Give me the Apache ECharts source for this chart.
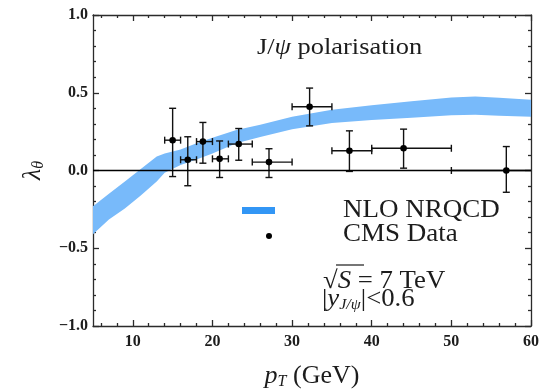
<!DOCTYPE html>
<html>
<head>
<meta charset="utf-8">
<script src="https://cdn.jsdelivr.net/npm/echarts@6/dist/echarts.min.js"></script>
<style>
    html, body { margin: 0; padding: 0; background: #fff; }
    #chart { width: 539px; height: 389px; }
</style>
</head>
<body>
<div id="chart"></div>
<script>
// CMS data points (pT bin centre, bin edges, lambda_theta with error)
const ptCentre = [15.0, 16.9, 18.8, 20.9, 23.3, 27.1, 32.2, 37.2, 44.0, 56.9];
const ptLow = [14, 16, 18, 20, 22, 25, 30, 35, 40, 50];
const ptHigh = [16, 18, 20, 22, 25, 30, 35, 40, 50, 70];
const lambda = [0.195, 0.069, 0.186, 0.075, 0.17, 0.054, 0.41, 0.127, 0.143, 0.0];
const lambdaLow = [-0.039, -0.098, 0.047, -0.045, 0.066, -0.045, 0.287, -0.006, 0.015, -0.14];
const lambdaHigh = [0.40, 0.217, 0.309, 0.19, 0.27, 0.14, 0.53, 0.255, 0.266, 0.154];

// NLO NRQCD band
const bandPt = [5, 7, 9, 11, 13, 14, 16, 18, 20, 23, 26, 30, 35, 40, 45, 50, 53, 56, 60];
const bandLow = [-0.41, -0.315, -0.245, -0.16, -0.07, -0.015, 0.035, 0.07, 0.11, 0.175, 0.215, 0.265, 0.305, 0.325, 0.34, 0.355, 0.358, 0.352, 0.345];
const bandHigh = [-0.23, -0.15, -0.07, 0.01, 0.09, 0.11, 0.135, 0.175, 0.21, 0.26, 0.295, 0.345, 0.39, 0.42, 0.445, 0.47, 0.476, 0.468, 0.455];

// tick positions
const xMajor = [10, 20, 30, 40, 50, 60];
const xMinor = [6, 8, 12, 14, 16, 18, 22, 24, 26, 28, 32, 34, 36, 38, 42, 44, 46, 48, 52, 54, 56, 58];

const serif = 'Liberation Serif';
const ink = '#1c1c1c';
const frame = { color: '#2b2b2b', width: 1.3 };

const renderBand = (params, api) => {
    if (params.dataIndex !== 0) return null;
    const pts = [];
    for (let i = 0; i < bandPt.length; i++) pts.push(api.coord([bandPt[i], bandHigh[i]]));
    for (let i = bandPt.length - 1; i >= 0; i--) pts.push(api.coord([bandPt[i], bandLow[i]]));
    return { type: 'polygon', shape: { points: pts }, style: { fill: '#78bafa' } };
};

const renderErrorBar = (params, api) => {
    const cs = params.coordSys;
    const xMax = cs.x + cs.width;
    const x = api.value(0), y = api.value(1);
    const c = api.coord([x, y]);
    const l = api.coord([api.value(2), y]);
    const r = api.coord([api.value(3), y]);
    const lo = api.coord([x, api.value(4)]);
    const hi = api.coord([x, api.value(5)]);
    const cap = 3.5;
    const st = { stroke: '#111', lineWidth: 1.4 };
    const seg = (x1, y1, x2, y2) => ({ type: 'line', shape: { x1, y1, x2, y2 }, style: st });
    const kids = [
        seg(l[0], c[1], Math.min(r[0], xMax), c[1]),
        seg(c[0], hi[1], c[0], lo[1]),
        seg(c[0] - cap, hi[1], c[0] + cap, hi[1]),
        seg(c[0] - cap, lo[1], c[0] + cap, lo[1]),
        seg(l[0], c[1] - cap, l[0], c[1] + cap)
    ];
    if (r[0] <= xMax + 0.5) kids.push(seg(r[0], c[1] - cap, r[0], c[1] + cap));
    kids.push({ type: 'circle', shape: { cx: c[0], cy: c[1], r: 3.3 }, style: { fill: '#000' } });
    return { type: 'group', children: kids };
};

const xBase = {
    type: 'value', min: 5, max: 60, gridIndex: 0,
    splitLine: { show: false },
    axisLabel: { show: false },
    axisLine: { show: false, onZero: false }
};

const option = {
    animation: false,
    grid: { left: 93, right: 8, top: 15, bottom: 63, outerBoundsMode: 'none', containLabel: false },
    xAxis: [
        {
            ...xBase,
            position: 'bottom',
            axisLine: { show: true, onZero: false, lineStyle: frame },
            axisTick: { inside: true, length: 6, customValues: xMajor, lineStyle: frame },
            axisLabel: {
                show: true, customValues: xMajor, margin: 8,
                fontFamily: serif, fontWeight: 'bold', fontSize: 16, color: ink
            },
            name: '{p|p}{t|T}{g| (GeV)}',
            nameLocation: 'middle',
            nameGap: 36,
            nameTextStyle: {
                rich: {
                    p: { fontFamily: serif, fontStyle: 'italic', fontSize: 26, color: ink },
                    t: { fontFamily: serif, fontStyle: 'italic', fontSize: 16, color: ink, padding: [12, 0, 0, 0] },
                    g: { fontFamily: serif, fontSize: 26, color: ink }
                }
            }
        },
        {
            ...xBase,
            position: 'bottom',
            axisTick: { inside: true, length: 3, customValues: xMinor, lineStyle: frame }
        },
        {
            ...xBase,
            position: 'top',
            axisLine: { show: true, onZero: false, lineStyle: frame },
            axisTick: { inside: true, length: 6, customValues: xMajor, lineStyle: frame }
        },
        {
            ...xBase,
            position: 'top',
            axisTick: { inside: true, length: 3, customValues: xMinor, lineStyle: frame }
        }
    ],
    yAxis: [
        {
            type: 'value', min: -1, max: 1, interval: 0.5, position: 'left',
            splitLine: { show: false },
            axisLine: { show: true, onZero: false, lineStyle: frame },
            axisTick: { inside: true, length: 6, lineStyle: frame },
            minorTick: { show: true, splitNumber: 5, length: 3, lineStyle: frame },
            axisLabel: {
                margin: 5, fontFamily: serif, fontWeight: 'bold', fontSize: 16, color: ink,
                formatter: (v) => v.toFixed(1).replace('-', '\u2212')
            },
            name: '{l|\u03bb}{t|\u03b8}',
            nameLocation: 'middle',
            nameGap: 46,
            nameTextStyle: {
                rich: {
                    l: { fontFamily: serif, fontStyle: 'italic', fontSize: 26, color: ink },
                    t: { fontFamily: serif, fontStyle: 'italic', fontSize: 16, color: ink, padding: [12, 0, 0, 0] }
                }
            }
        },
        {
            type: 'value', min: -1, max: 1, interval: 0.5, position: 'right',
            splitLine: { show: false },
            axisLine: { show: true, onZero: false, lineStyle: frame },
            axisTick: { inside: true, length: 6, lineStyle: frame },
            minorTick: { show: true, splitNumber: 5, length: 3, lineStyle: frame },
            axisLabel: { show: false }
        }
    ],
    series: [
        {
            name: 'NLO NRQCD',
            type: 'custom',
            z: 1,
            silent: true,
            renderItem: renderBand,
            encode: { x: 0, y: [1, 2] },
            data: bandPt.map((x, i) => [x, bandLow[i], bandHigh[i]])
        },
        {
            name: 'CMS Data',
            type: 'custom',
            z: 3,
            renderItem: renderErrorBar,
            encode: { x: [0, 2, 3], y: [1, 4, 5] },
            data: ptCentre.map((x, i) => [x, lambda[i], ptLow[i], ptHigh[i], lambdaLow[i], lambdaHigh[i]]),
            markLine: {
                silent: true,
                symbol: 'none',
                label: { show: false },
                lineStyle: { color: '#000', width: 1.3, type: 'solid' },
                data: [{ yAxis: 0 }]
            }
        }
    ],
    graphic: [
        {
            type: 'text', x: 257, y: 48, scaleX: 1.1, z: 10,
            style: {
                text: '{a|J/}{b|\u03c8}{a| polarisation}',
                verticalAlign: 'middle', align: 'left',
                rich: {
                    a: { fontFamily: serif, fontSize: 24, fill: ink },
                    b: { fontFamily: serif, fontSize: 24, fontStyle: 'italic', fill: ink }
                }
            }
        },
        { type: 'rect', shape: { x: 242, y: 207, width: 33, height: 7 }, style: { fill: '#3296f5' }, z: 10 },
        { type: 'circle', shape: { cx: 269, cy: 236, r: 3 }, style: { fill: '#000' }, z: 10 },
        {
            type: 'text', x: 343, y: 210, scaleX: 1.08, z: 10,
            style: { text: 'NLO NRQCD', fontFamily: serif, fontSize: 25, fill: ink, verticalAlign: 'middle', align: 'left' }
        },
        {
            type: 'text', x: 343, y: 234, scaleX: 1.08, z: 10,
            style: { text: 'CMS Data', fontFamily: serif, fontSize: 25, fill: ink, verticalAlign: 'middle', align: 'left' }
        },
        {
            type: 'text', x: 323, y: 281, scaleX: 1.07, z: 10,
            style: {
                text: '{r|\u221a}{s|S}{n| = 7 TeV}',
                verticalAlign: 'middle', align: 'left',
                rich: {
                    r: { fontFamily: serif, fontSize: 25, fill: ink },
                    s: { fontFamily: serif, fontSize: 25, fontStyle: 'italic', fill: ink },
                    n: { fontFamily: serif, fontSize: 25, fill: ink }
                }
            }
        },
        { type: 'line', shape: { x1: 336, y1: 265, x2: 364, y2: 265 }, style: { stroke: ink, lineWidth: 1.2 }, z: 10 },
        {
            type: 'text', x: 322, y: 299, scaleX: 1.07, z: 10,
            style: {
                text: '{a||}{y|y}{s|J/\u03c8}{a||<0.6}',
                verticalAlign: 'middle', align: 'left',
                rich: {
                    a: { fontFamily: serif, fontSize: 25, fill: ink },
                    y: { fontFamily: serif, fontSize: 25, fontStyle: 'italic', fill: ink },
                    s: { fontFamily: serif, fontSize: 15, fontStyle: 'italic', fill: ink, padding: [12, 0, 0, 0] }
                }
            }
        }
    ]
};

const chart = echarts.init(document.getElementById('chart'));
chart.setOption(option);
</script>
</body>
</html>
